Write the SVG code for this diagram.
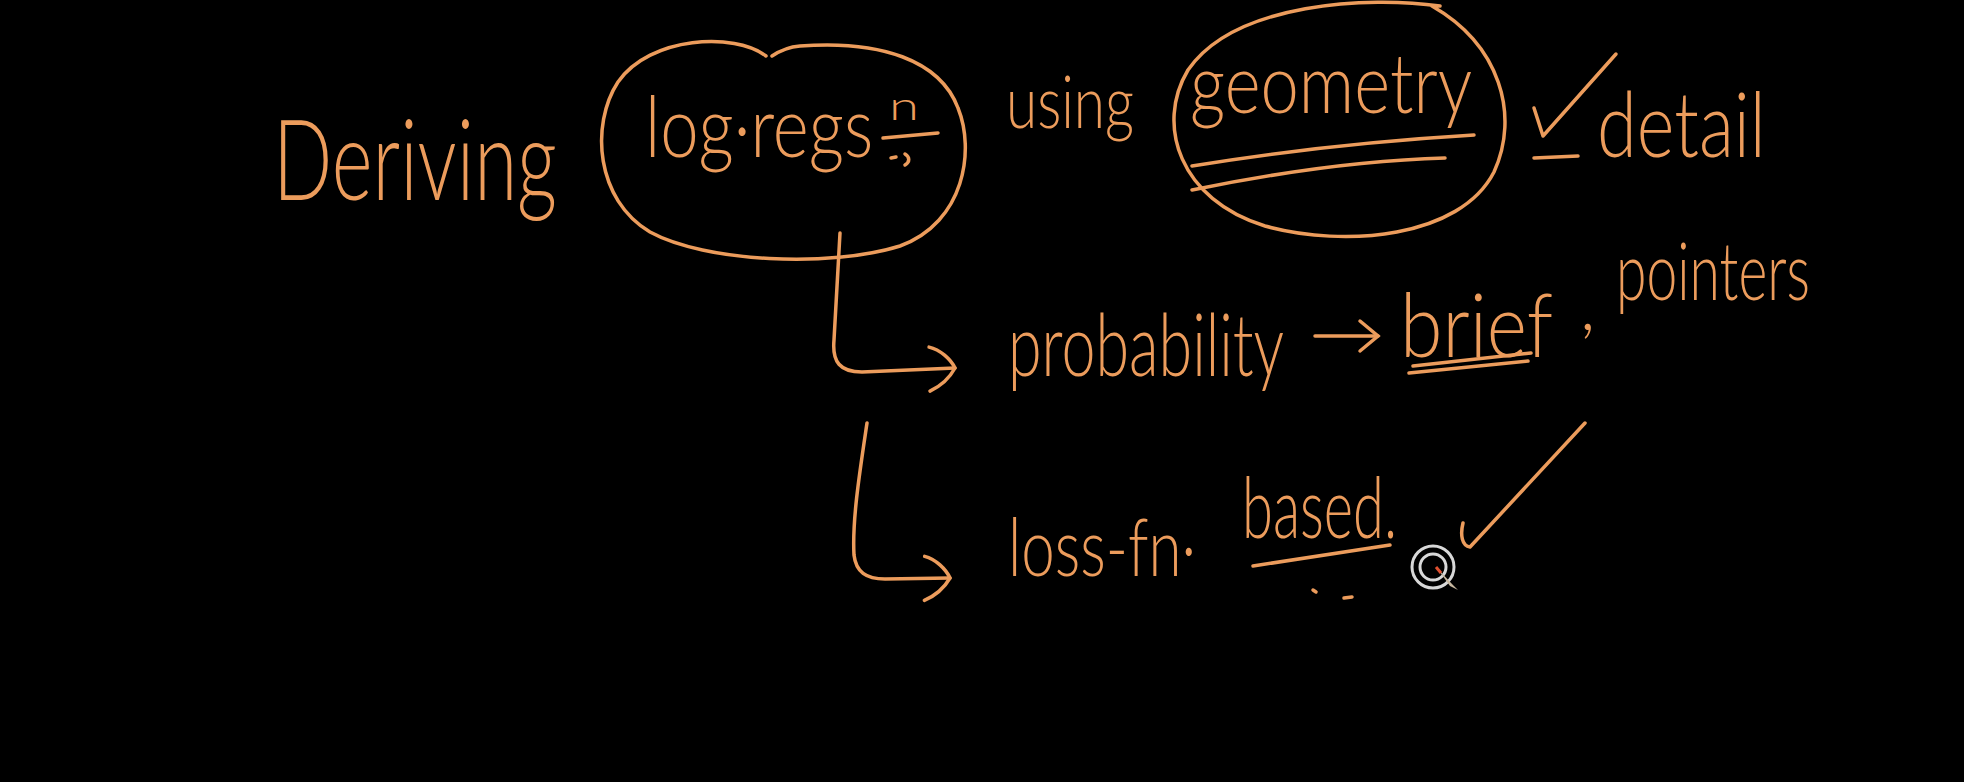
<svg xmlns="http://www.w3.org/2000/svg" width="1964" height="782" viewBox="0 0 1964 782">
<defs>
<style>
.ink{fill:none;stroke:#EC9C5C;stroke-width:3.5;stroke-linecap:round;stroke-linejoin:round}
.hw{fill:#EC9C5C;font-family:"Lato","Open Sans","Liberation Sans",sans-serif;font-weight:300}
</style>
<marker id="chev" viewBox="0 0 32 50" refX="28" refY="25" markerWidth="32" markerHeight="50" markerUnits="userSpaceOnUse" orient="auto">
<path d="M3,3 C14,6 24,16 28,25 C22,35 14,42 2,47" fill="none" stroke="#EC9C5C" stroke-width="3.5" stroke-linecap="round"/>
</marker>
<marker id="chevs" viewBox="0 0 24 36" refX="21" refY="18" markerWidth="24" markerHeight="36" markerUnits="userSpaceOnUse" orient="auto">
<path d="M3,3 L21,18 L3,33" fill="none" stroke="#EC9C5C" stroke-width="3.5" stroke-linecap="round"/>
</marker>
</defs>
<rect x="0" y="0" width="1964" height="782" fill="#000"/>

<g id="n-deriving">
<text class="hw" transform="translate(273,200) scale(0.71,1)" font-size="112" textLength="400" lengthAdjust="spacingAndGlyphs">Deriving</text>
</g>

<g id="n-logreg">
<path class="ink" d="M766,56 C735,32 650,36 618,82 C590,125 596,200 650,232 C705,262 830,268 900,246 C965,222 975,150 958,108 C940,60 880,40 800,46 C788,47 778,52 772,56"/>
<text class="hw" transform="translate(645,157) scale(0.83,1)" font-size="84" textLength="275" lengthAdjust="spacingAndGlyphs">log·regs</text>
<text class="hw" x="889" y="120" font-size="40" textLength="30" lengthAdjust="spacingAndGlyphs">n</text>
<path class="ink" d="M883,138 L938,133"/>
<path class="ink" d="M891,158 L896,157 M905,154 C910,157 910,162 905,165"/>
</g>

<g id="n-using">
<text class="hw" transform="translate(1006,128) scale(0.8,1)" font-size="72" textLength="160" lengthAdjust="spacingAndGlyphs">using</text>
</g>

<g id="n-geometry">
<path class="ink" d="M1440,6 C1370,-4 1235,2 1188,70 C1155,125 1180,200 1265,226 C1345,248 1460,238 1494,172 C1520,115 1500,45 1432,6"/>
<text class="hw" transform="translate(1190,113) scale(0.85,1)" font-size="82" textLength="332" lengthAdjust="spacingAndGlyphs">geometry</text>
<path class="ink" d="M1192,166 C1290,150 1390,140 1474,135"/>
<path class="ink" d="M1192,190 C1280,172 1370,160 1445,158"/>
</g>

<g id="n-detail">
<path class="ink" d="M1534,108 L1543,136 L1616,54"/>
<path class="ink" d="M1534,158 L1578,156"/>
<text class="hw" transform="translate(1597,157) scale(0.8,1)" font-size="90" textLength="211" lengthAdjust="spacingAndGlyphs">detail</text>
</g>

<g id="n-probability">
<text class="hw" transform="translate(1008,376) scale(0.71,1)" font-size="86" textLength="389" lengthAdjust="spacingAndGlyphs">probability</text>
</g>

<g id="n-brief">
<text class="hw" transform="translate(1400,357) scale(0.89,1)" font-size="88" textLength="172" lengthAdjust="spacingAndGlyphs">brief</text>
<path class="ink" d="M1413,366 L1531,353 M1409,373 L1528,361"/>
</g>

<g id="n-pointers">
<text class="hw" x="1580" y="330" font-size="70">,</text>
<text class="hw" transform="translate(1616,300) scale(0.7,1)" font-size="80" textLength="277" lengthAdjust="spacingAndGlyphs">pointers</text>
</g>

<g id="n-loss">
<text class="hw" transform="translate(1008,576) scale(0.78,1)" font-size="80" textLength="241" lengthAdjust="spacingAndGlyphs">loss-fn·</text>
</g>

<g id="n-based">
<text class="hw" transform="translate(1242,538) scale(0.68,1)" font-size="84" textLength="228" lengthAdjust="spacingAndGlyphs">based.</text>
<path class="ink" d="M1253,566 L1390,545"/>
<path class="ink" d="M1313,590 L1316,592 M1344,598 L1352,597"/>
</g>

<g id="check2">
<path class="ink" d="M1463,523 C1460,535 1462,546 1470,547 L1585,423"/>
</g>

<g id="connectors">
<path class="ink" d="M840,233 L834,340 C832,362 840,372 862,372 L955,368" marker-end="url(#chev)"/>
<path class="ink" d="M867,423 C860,470 852,520 854,555 C856,572 866,579 885,579 L950,578" marker-end="url(#chev)"/>
<path class="ink" d="M1315,336 L1378,336" marker-end="url(#chevs)"/>
</g>

<g id="cursor">
<circle cx="1433" cy="567" r="21" fill="none" stroke="#d8d8d8" stroke-width="3"/>
<circle cx="1433" cy="567" r="13" fill="none" stroke="#d8d8d8" stroke-width="3"/>
<path d="M1437,568 L1452,584 L1458,590 L1450,586 Z" fill="#c8b8a0"/>
<path d="M1436,567 L1441,573" stroke="#e05030" stroke-width="3"/>
</g>
</svg>
